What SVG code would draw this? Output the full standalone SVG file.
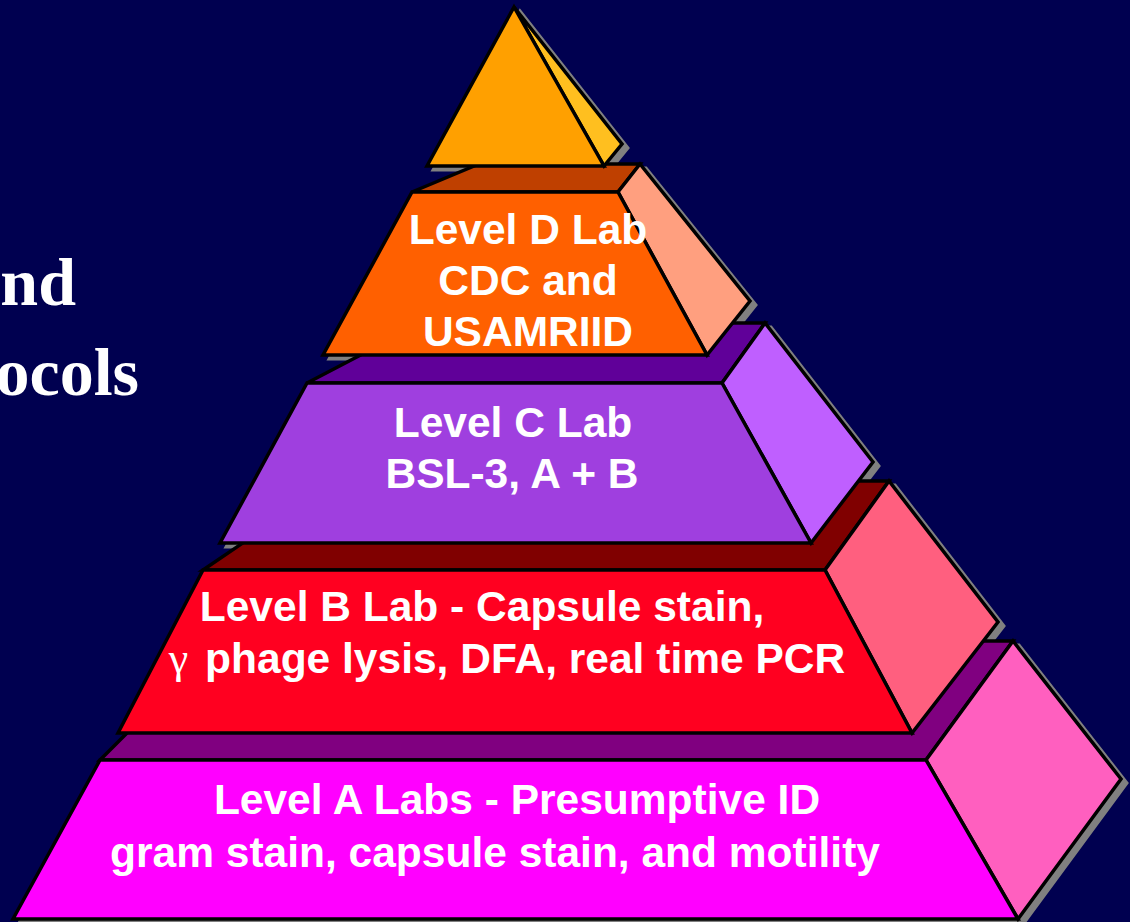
<svg xmlns="http://www.w3.org/2000/svg" width="1130" height="922" viewBox="0 0 1130 922">
<style>
.face{stroke:#000;stroke-width:3.5;stroke-linejoin:miter}
.sh{fill:#808080;stroke:#808080;stroke-width:3}
.lbl{font-family:"Liberation Sans",Arial,sans-serif;font-weight:bold;font-size:42.5px;fill:#fff;text-anchor:middle}
.ttl{font-family:"Liberation Serif","Times New Roman",serif;font-weight:bold;font-size:68px;fill:#fff;text-anchor:end}
.gam{font-family:"Liberation Serif","Times New Roman",serif;font-weight:normal;font-size:44px}
</style>
<rect x="0" y="0" width="1130" height="922" fill="#000050"/>
<g id="title">
<text class="ttl" x="76" y="305">nd</text>
<text class="ttl" x="139" y="395">ocols</text>
</g>
<g id="shadows" transform="translate(6,4)">
<polygon class="sh" points="514,7 622,144 604,166 427,166"/>
<polygon class="sh" points="412,192 479,164 640,164 750,301 707,355 323,355"/>
<polygon class="sh" points="307,383 422,323 765,323 873,462 811,543 220,543"/>
<polygon class="sh" points="203,570 334,481 889,481 998,622 912,733 118,733"/>
<polygon class="sh" points="100,760 219,641 1013,641 1121,779 1018,919 13,919"/>
</g>
<g id="levelA">
<polygon class="face" fill="#800080" points="100,760 219,641 1013,641 926,760"/>
<polygon class="face" fill="#FF5FBF" points="926,760 1013,641 1121,779 1018,919"/>
<polygon class="face" fill="#FF00FF" points="100,760 926,760 1018,919 13,919"/>
<text class="lbl" x="517" y="814">Level A Labs - Presumptive ID</text>
<text class="lbl" x="495" y="867">gram stain, capsule stain, and motility</text>
</g>
<g id="levelB">
<polygon class="face" fill="#800000" points="203,570 334,481 889,481 825,570"/>
<polygon class="face" fill="#FF5F7F" points="825,570 889,481 998,622 912,733"/>
<polygon class="face" fill="#FF0020" points="203,570 825,570 912,733 118,733"/>
<text class="lbl" x="482" y="621">Level B Lab - Capsule stain,</text>
<text class="lbl" x="507" y="673"><tspan class="gam">γ</tspan><tspan dx="5"> phage lysis, DFA, real time PCR</tspan></text>
</g>
<g id="levelC">
<polygon class="face" fill="#600099" points="307,383 422,323 765,323 722,383"/>
<polygon class="face" fill="#BF5FFF" points="722,383 765,323 873,462 811,543"/>
<polygon class="face" fill="#9F3FDF" points="307,383 722,383 811,543 220,543"/>
<text class="lbl" x="513" y="437">Level C Lab</text>
<text class="lbl" x="512" y="488">BSL-3, A + B</text>
</g>
<g id="levelD">
<polygon class="face" fill="#BF4000" points="412,192 479,164 640,164 618,192"/>
<polygon class="face" fill="#FF9F7F" points="618,192 640,164 750,301 707,355"/>
<polygon class="face" fill="#FF6000" points="412,192 618,192 707,355 323,355"/>
<text class="lbl" x="528" y="244">Level D Lab</text>
<text class="lbl" x="528" y="295">CDC and</text>
<text class="lbl" x="528" y="346">USAMRIID</text>
</g>
<g id="apex">
<polygon class="face" fill="#FFBF1F" points="514,7 622,144 604,166"/>
<polygon class="face" fill="#FFA000" points="514,7 604,166 427,166"/>
</g>
<g id="connectors"/>
</svg>
